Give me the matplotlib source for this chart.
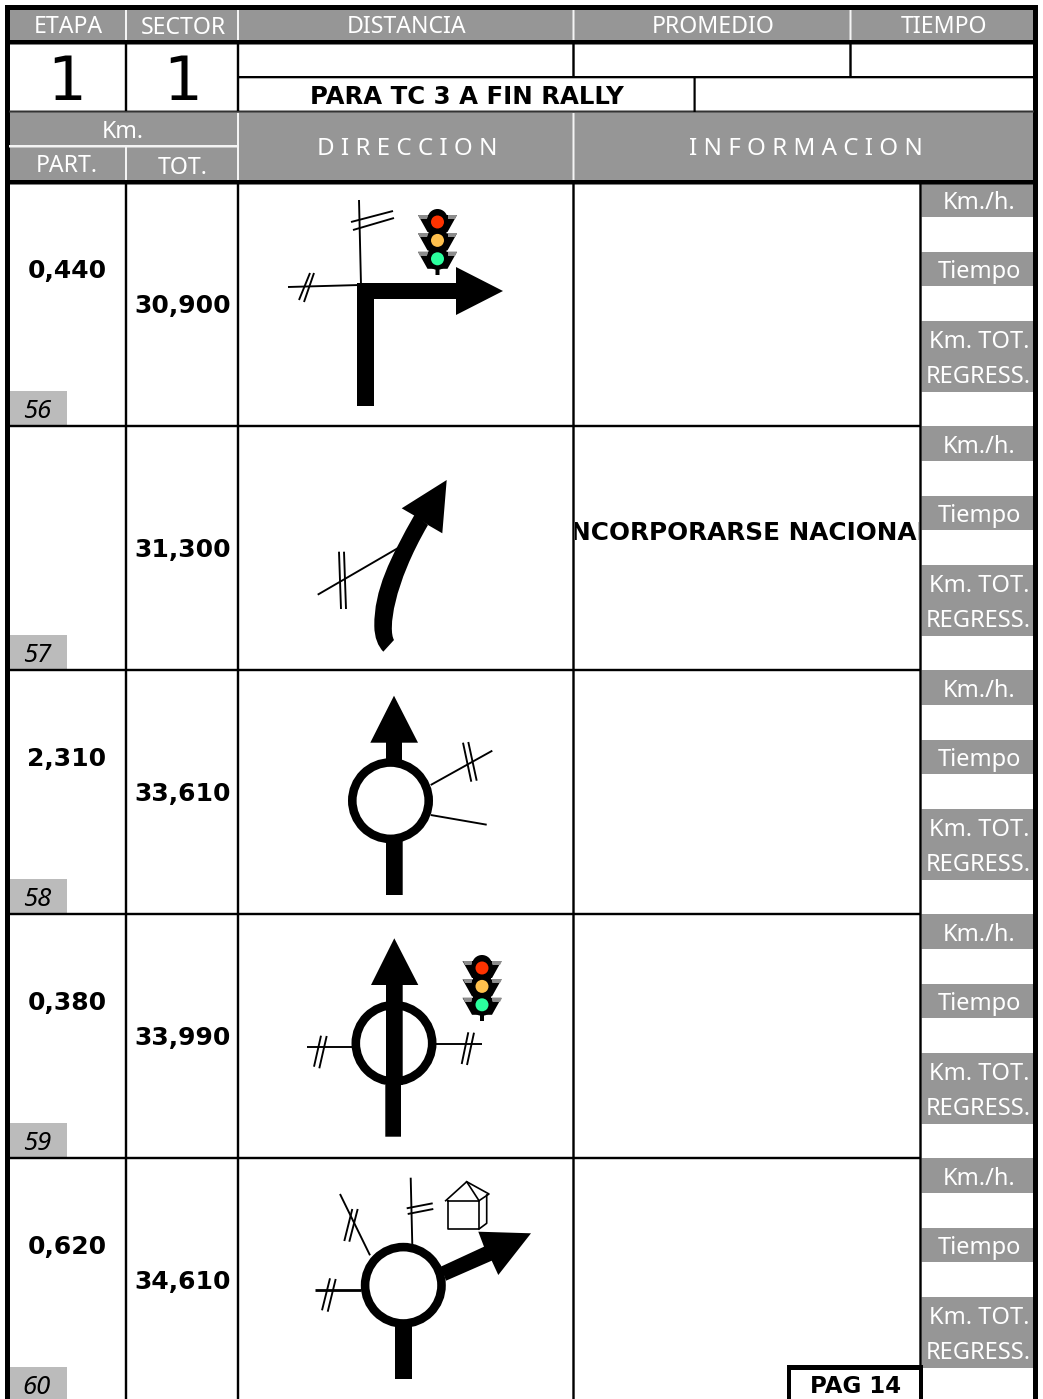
import matplotlib
matplotlib.use('Agg')
import matplotlib.pyplot as plt
from matplotlib.patches import Circle, PathPatch, Polygon, Rectangle
from matplotlib.path import Path

W, H = 1043, 1399
GREY = '#969696'
LIGHT = '#bbbbbb'
REGULAR = 'Noto Sans'
BOLD = 'DejaVu Sans'

# roadbook values
etapa = '1'
sector = '1'
header_row = ['ETAPA', 'SECTOR', 'DISTANCIA', 'PROMEDIO', 'TIEMPO']
note = 'PARA TC 3 A FIN RALLY'
casillas = ['56', '57', '58', '59', '60']
km_part = ['0,440', '', '2,310', '0,380', '0,620']
km_tot = ['30,900', '31,300', '33,610', '33,990', '34,610']
info = ['', 'INCORPORARSE NACIONAL', '', '', '']
side_labels = ['Km./h.', 'Tiempo', 'Km. TOT.', 'REGRESS.']
page = 'PAG 14'

fig = plt.figure(figsize=(W / 100, H / 100), dpi=100)
ax = fig.add_axes([0, 0, 1, 1])
ax.set_xlim(0, W)
ax.set_ylim(H, 0)
ax.axis('off')


def box(x0, y0, x1, y1, color='black', z=2):
    ax.add_patch(Rectangle((x0, y0), x1 - x0, y1 - y0, fc=color, ec='none', zorder=z, snap=False))


def label(x, y, s, size=16.6, color='white', weight='normal', family=REGULAR, **kw):
    return ax.text(x, y, s, fontsize=size, color=color, fontweight=weight, family=family,
                   ha='center', va='baseline', zorder=6, **kw)


def lines(segs, lw=1.9):
    for (x0, y0), (x1, y1) in segs:
        ax.plot([x0, x1], [y0, y1], color='black', lw=lw * 0.72, solid_capstyle='butt', zorder=4)


def shape(pts, color='black', z=5):
    ax.add_patch(Polygon(pts, closed=True, fc=color, ec='none', zorder=z))


def ring(cx, cy, outer=42.5, thick=8.6):
    ax.add_patch(Circle((cx, cy), outer - thick / 2, fc='none', ec='black',
                        lw=thick * 0.72, zorder=4))


def traffic_light(cx, y0):
    # y0 is the centre of the red lamp
    box(cx - 2, y0 + 44, cx + 2, y0 + 53, z=4)
    box(cx - 9, y0 - 6, cx + 9, y0 + 42, z=4)
    ax.add_patch(Circle((cx, y0 - 3), 10, fc='black', ec='none', zorder=4))
    ax.add_patch(Circle((cx, y0 + 37), 9.5, fc='black', ec='none', zorder=4))
    for i, col in enumerate(['#ff3300', '#ffc04d', '#2bff9e']):
        cy = y0 + i * 18.4
        shape([(cx - 19.5, cy - 7), (cx + 19.5, cy - 7), (cx + 10, cy + 10), (cx - 10, cy + 10)], z=4)
        shape([(cx - 19.5, cy - 7), (cx - 10, cy - 7), (cx - 10, cy - 3), (cx - 17.5, cy - 3)], '#8c8c8c', 5)
        shape([(cx + 19.5, cy - 7), (cx + 10, cy - 7), (cx + 10, cy - 3), (cx + 17.5, cy - 3)], '#8c8c8c', 5)
        ax.add_patch(Circle((cx, cy), 11, fc='black', ec='none', zorder=5))
        ax.add_patch(Circle((cx, cy), 6.5, fc=col, ec='none', zorder=6))


# header bands
box(9, 10, 1034, 40, GREY, 1)
box(9, 112, 1034, 180, GREY, 1)

# white separators in the bands
for x in [126, 238, 573.5, 850.5]:
    box(x - 1, 10, x + 1, 40, '#f4f4f4', 3)
for x in [238, 573.5]:
    box(x - 1, 113, x + 1, 180, '#f4f4f4', 3)
box(125, 147, 127, 180, '#f4f4f4', 3)
box(9, 145, 238, 147.5, '#f4f4f4', 3)

# outer frame and heavy rules
box(5, 5, 1038, 10)
box(5, 5, 10, H)
box(1033, 5, 1038, H)
box(9, 40, 1034, 44.5)
box(9, 180, 1034, 184.5)
box(9, 110.5, 1034, 112.5, '#333333')
box(238, 76, 1034, 78.3)

# verticals
for x in [126, 238]:
    box(x - 1.2, 44, x + 1.2, 111)
for x in [573.5, 850.5]:
    box(x - 1.2, 44, x + 1.2, 77)
box(693.5, 77, 695.7, 112)
for x in [126, 238, 573.5, 920.5]:
    box(x - 1.2, 184, x + 1.2, H)

# header text
for x, y, s in zip([68, 183, 407, 713, 944], [33, 34, 33, 33, 33], header_row):
    label(x, y, s)
label(67, 100, etapa, size=44, color='black', family='DejaVu Sans')
label(183, 100, sector, size=44, color='black', family='DejaVu Sans')
label(467, 104, note, size=17.6, color='black', weight='bold', family=BOLD)
label(123, 138, 'Km.')
label(67, 172, 'PART.')
label(183, 174, 'TOT.')
label(407, 155, 'D I R E C C I O N', size=17.4)
label(806, 155, 'I N F O R M A C I O N', size=17.4)

# the five roadbook rows
cell = Rectangle((575, 426), 344, 244, transform=ax.transData)
for i in range(5):
    top = 182 + 244 * i
    if i > 0:
        box(9, top - 1.2, 921, top + 1.2)
    box(9, top + 209, 67, top + 243, LIGHT, 1)
    label(37, top + 236, casillas[i], size=18.5, color='black', style='italic')
    label(67, top + 96, km_part[i], size=18, color='black', weight='bold', family=BOLD)
    label(183, top + 131, km_tot[i], size=18, color='black', weight='bold', family=BOLD)
    if info[i]:
        t = label(747, top + 114, info[i], size=17.8, color='black', weight='bold', family=BOLD)
        t.set_clip_path(cell)
        t.set_clip_on(True)
    for y0, y1 in [(0, 35), (70, 104), (139, 210)]:
        box(921.5, top + y0, 1033, top + y1, GREY, 1)
    for s, dy, x in zip(side_labels, [27, 96, 166, 201], [979, 979, 979, 978]):
        label(x, top + dy, s, size=17)

# row 56
shape([(357, 283), (456, 283), (456, 267), (503, 291), (456, 315), (456, 299),
       (374, 299), (374, 406), (357, 406)])
lines([((359, 200), (361, 285)), ((351, 222), (393, 211)), ((353, 230), (394, 218)),
       ((288, 287), (360, 285)), ((314, 273), (304, 302)), ((310, 273), (299, 300))])
traffic_light(437.5, 222)

# row 57
shape([(446.7, 480), (401.7, 508.3), (415, 516), (428, 525), (442.3, 533.3)])
ax.add_patch(PathPatch(Path(
    [(415, 514), (390, 558), (374, 590), (374.3, 626), (374.5, 638), (378, 646), (383.3, 651.7),
     (394, 640), (388, 630), (393, 585), (428, 525), (415, 514)],
    [Path.MOVETO, Path.CURVE4, Path.CURVE4, Path.CURVE4, Path.CURVE4, Path.CURVE4, Path.CURVE4,
     Path.LINETO, Path.CURVE4, Path.CURVE4, Path.CURVE4, Path.CLOSEPOLY]),
    fc='black', ec='none', zorder=5))
lines([((317.7, 594.7), (399.3, 547.3)), ((339, 551.7), (341, 609)), ((344, 551.7), (346, 609))])

# row 58
shape([(394, 695.7), (418, 742.7), (402, 742.7), (402, 762), (386, 762), (386, 742.7), (370.3, 742.7)])
ring(390.5, 800.7)
box(386, 840, 402.7, 895, z=4)
lines([((430.7, 785), (492.3, 750.7)), ((463, 742.7), (471.3, 781.7)), ((468.3, 742), (476.7, 780.7)),
       ((430.7, 815), (486.7, 824.7))])

# row 59
ring(394, 1043.3)
shape([(394.3, 938.3), (418.3, 985), (402.7, 985), (402.7, 1085), (401, 1085), (401, 1136.7),
       (385.3, 1136.7), (385.3, 1085), (386, 1085), (386, 985), (371, 985)])
lines([((306.7, 1047), (352, 1047)), ((321, 1035.7), (314, 1066.7)), ((326.7, 1036), (319.3, 1068.3)),
       ((436, 1044), (481.7, 1044)), ((468.3, 1032.3), (461.7, 1064)), ((474, 1032.7), (467, 1065))])
traffic_light(482, 968)

# row 60
ring(403.3, 1285.3)
box(395, 1325, 412, 1379, z=4)
shape([(440.7, 1266.7), (484, 1246.7), (478.3, 1231.7), (531, 1233.3), (498.3, 1275),
       (491.7, 1260.7), (446, 1280.7)])
lines([((410.7, 1177.7), (412.3, 1245)), ((406.7, 1208.3), (432.7, 1203.3)), ((407.7, 1214), (433.3, 1209)),
       ((340, 1194), (370, 1255.3)), ((357.7, 1209), (349.3, 1241.7)), ((352.3, 1209), (344.3, 1241)),
       ((327.7, 1311.7), (335.7, 1279)), ((322, 1310.3), (330, 1278.3))])
lines([((315, 1290), (360.7, 1290))], lw=2.8)
# little house
ax.plot([448.3, 479, 479, 448.3, 448.3], [1200.7, 1200.7, 1229, 1229, 1200.7], color='black', lw=1.2, zorder=4)
ax.plot([445.7, 466.7, 479], [1200.7, 1181.7, 1200.7], color='black', lw=1.2, zorder=4)
ax.plot([466.7, 489, 479], [1181.7, 1194, 1200.7], color='black', lw=1.2, zorder=4)
ax.plot([486.7, 486.7, 479], [1195, 1223.3, 1229], color='black', lw=1.2, zorder=4)

# page box
box(787, 1365, 923, H, 'white', 7)
box(787, 1365, 923, 1370, z=8)
box(787, 1365, 791, H, z=8)
box(919, 1365, 923, H, z=8)
t = label(856, 1393, page, size=16.5, color='black', weight='bold', family=BOLD)
t.set_zorder(9)

fig.savefig('out.png', dpi=100, facecolor='white')
